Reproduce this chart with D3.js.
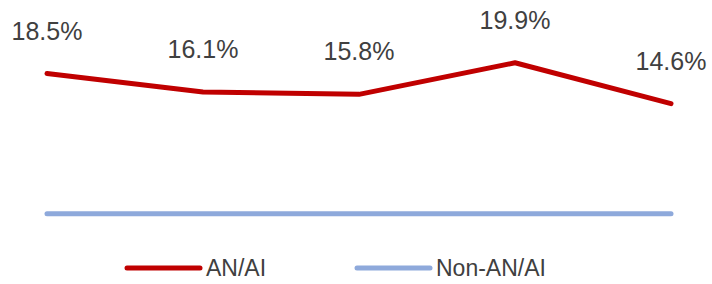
<!DOCTYPE html>
<html>
<head>
<meta charset="utf-8">
<script src="https://cdn.jsdelivr.net/npm/d3@7"></script>
<style>
  body { margin: 0; background: #fff; }
  text { font-family: "Liberation Sans", Arial, sans-serif; fill: #404040; }
</style>
</head>
<body>
<div id="chart"></div>
<script>
// categories are not printed on the chart
var categories = ["P1", "P2", "P3", "P4", "P5"];
var anaiValues = [18.5, 16.1, 15.8, 19.9, 14.6];
var nonAnaiValues = [0.3, 0.3, 0.3, 0.3, 0.3];
var seriesNames = ["AN/AI", "Non-AN/AI"];
var seriesColors = ["#C00000", "#8EA9DB"];

var width = 712, height = 284;

var svg = d3.select("#chart")
  .append("svg")
  .attr("width", width)
  .attr("height", height);

var x = d3.scalePoint()
  .domain(categories)
  .range([47, 671]);

var y = d3.scaleLinear()
  .domain([0, 20])
  .range([216, 62]);

var line = d3.line()
  .x(function(d, i) { return x(categories[i]); })
  .y(function(d) { return y(d); });

// non AN/AI first so red sits on top
svg.append("path")
  .datum(nonAnaiValues)
  .attr("d", line)
  .attr("fill", "none")
  .attr("stroke", seriesColors[1])
  .attr("stroke-width", 5)
  .attr("stroke-linecap", "round");

svg.append("path")
  .datum(anaiValues)
  .attr("d", line)
  .attr("fill", "none")
  .attr("stroke", seriesColors[0])
  .attr("stroke-width", 5)
  .attr("stroke-linecap", "round")
  .attr("stroke-linejoin", "round");

// data labels
svg.selectAll(".label")
  .data(anaiValues)
  .enter()
  .append("text")
  .attr("class", "label")
  .attr("x", function(d, i) { return x(categories[i]); })
  .attr("y", function(d) { return y(d) - 34; })
  .attr("text-anchor", "middle")
  .style("font-size", "25px")
  .text(function(d) { return d.toFixed(1) + "%"; });

// legend
var legendX = [127, 357];
var legend = svg.selectAll(".legend")
  .data(seriesNames)
  .enter()
  .append("g")
  .attr("class", "legend")
  .attr("transform", function(d, i) { return "translate(" + legendX[i] + ",268)"; });

legend.append("line")
  .attr("x1", 0).attr("x2", 73)
  .attr("y1", 0).attr("y2", 0)
  .attr("stroke", function(d, i) { return seriesColors[i]; })
  .attr("stroke-width", 5)
  .attr("stroke-linecap", "round");

legend.append("text")
  .attr("x", 79)
  .attr("y", 8)
  .style("font-size", "23px")
  .text(function(d) { return d; });
</script>
</body>
</html>
